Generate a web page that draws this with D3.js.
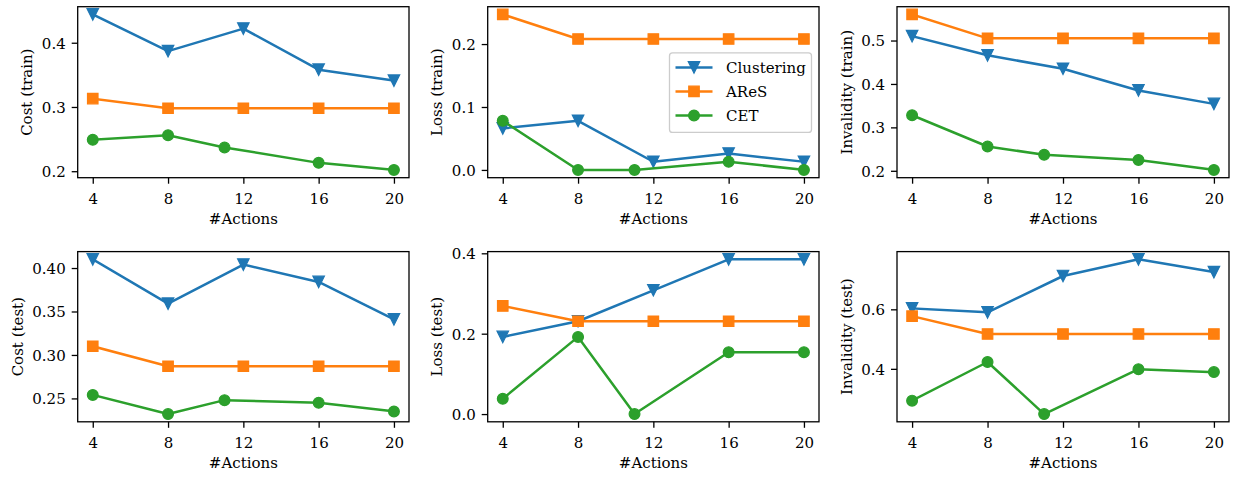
<!DOCTYPE html>
<html>
<head>
<meta charset="utf-8">
<script src="https://cdn.jsdelivr.net/npm/d3@7"></script>
<style>
  html, body { margin: 0; padding: 0; background: #fff; }
  svg { display: block; }
  text { font-family: "DejaVu Serif", "Liberation Serif", serif; fill: #000; }
</style>
</head>
<body>
<svg id="chart" width="1233" height="479"></svg>
<script>
// ---------------- data ----------------
const seriesNames = ["Clustering", "AReS", "CET"];
const actions = [4, 8, 12, 16, 20];
const actionsCET = [4, 8, 11, 16, 20];
const xTicks = [4, 8, 12, 16, 20];
const xLabel = "#Actions";

const costTrainClustering = [0.444, 0.387, 0.422, 0.358, 0.341];
const costTrainAReS       = [0.313, 0.298, 0.298, 0.298, 0.298];
const costTrainCET        = [0.249, 0.256, 0.237, 0.213, 0.202];

const lossTrainClustering = [0.066, 0.078, 0.013, 0.026, 0.013];
const lossTrainAReS       = [0.247, 0.208, 0.208, 0.208, 0.208];
const lossTrainCET        = [0.078, 0.000, 0.000, 0.013, 0.000];

const invTrainClustering  = [0.510, 0.466, 0.435, 0.385, 0.354];
const invTrainAReS        = [0.560, 0.505, 0.505, 0.505, 0.505];
const invTrainCET         = [0.328, 0.256, 0.237, 0.225, 0.202];

const costTestClustering  = [0.410, 0.359, 0.404, 0.384, 0.341];
const costTestAReS        = [0.310, 0.287, 0.287, 0.287, 0.287];
const costTestCET         = [0.254, 0.232, 0.248, 0.245, 0.235];

const lossTestClustering  = [0.192, 0.231, 0.308, 0.385, 0.385];
const lossTestAReS        = [0.269, 0.231, 0.231, 0.231, 0.231];
const lossTestCET         = [0.038, 0.192, 0.000, 0.154, 0.154];

const invTestClustering   = [0.603, 0.590, 0.712, 0.768, 0.725];
const invTestAReS         = [0.577, 0.517, 0.517, 0.517, 0.517];
const invTestCET          = [0.293, 0.423, 0.248, 0.399, 0.389];

const yLabels = ["Cost (train)", "Loss (train)", "Invalidity (train)",
                 "Cost (test)", "Loss (test)", "Invalidity (test)"];
const yTicks = [
  [0.2, 0.3, 0.4],
  [0.0, 0.1, 0.2],
  [0.2, 0.3, 0.4, 0.5],
  [0.25, 0.30, 0.35, 0.40],
  [0.0, 0.2, 0.4],
  [0.4, 0.6]
];
const yTickDecimals = [1, 1, 1, 2, 1, 1];

const panelData = [
  [costTrainClustering, costTrainAReS, costTrainCET],
  [lossTrainClustering, lossTrainAReS, lossTrainCET],
  [invTrainClustering, invTrainAReS, invTrainCET],
  [costTestClustering, costTestAReS, costTestCET],
  [lossTestClustering, lossTestAReS, lossTestCET],
  [invTestClustering, invTestAReS, invTestCET]
];

// ---------------- styling / layout ----------------
const colors = ["#1f77b4", "#ff7f0e", "#2ca02c"];
const markers = ["triDown", "square", "circle"];
const colLeft = [77.7, 487.7, 897];
const colRight = [409, 819, 1229];
const rowTop = [6.7, 251.6];
const rowBottom = [177.7, 421.8];
const legendPanel = 1;

const svg = d3.select("#chart");
const FONT = 15;

function markerPath(type, s) {
  const h = s / 2;
  if (type === "triDown") return `M${-h},${-h}L${h},${-h}L0,${h}Z`;
  if (type === "square") return `M${-h},${-h}H${h}V${h}H${-h}Z`;
  return d3.arc()({innerRadius: 0, outerRadius: h, startAngle: 0, endAngle: 2 * Math.PI});
}
const markerSize = { triDown: 11.5, square: 10.5, circle: 10.8 };

panelData.forEach((series, i) => {
  const r = Math.floor(i / 3), c = i % 3;
  const L = colLeft[c], R = colRight[c], T = rowTop[r], B = rowBottom[r];

  const x = d3.scaleLinear().domain([3.2, 20.8]).range([L, R]);
  const all = series.flat();
  const lo = d3.min(all), hi = d3.max(all), pad = (hi - lo) * 0.05;
  const y = d3.scaleLinear().domain([lo - pad, hi + pad]).range([B, T]);

  const g = svg.append("g");
  const clipId = "clip" + i;
  g.append("clipPath").attr("id", clipId)
    .append("rect").attr("x", L).attr("y", T).attr("width", R - L).attr("height", B - T);

  // series
  const plot = g.append("g").attr("clip-path", `url(#${clipId})`);
  series.forEach((vals, k) => {
    const xs = k === 2 ? actionsCET : actions;
    const pts = vals.map((v, j) => [xs[j], v]);
    const line = d3.line().x(d => x(d[0])).y(d => y(d[1]));
    const sg = plot.append("g");
    sg.append("path").attr("d", line(pts))
      .attr("fill", "none").attr("stroke", colors[k])
      .attr("stroke-width", 2.5).attr("stroke-linejoin", "round").attr("stroke-linecap", "square");
    sg.selectAll("path.m").data(pts).join("path").attr("class", "m")
      .attr("d", markerPath(markers[k], markerSize[markers[k]]))
      .attr("transform", d => `translate(${x(d[0])},${y(d[1])})`)
      .attr("fill", colors[k]).attr("stroke", colors[k]).attr("stroke-width", 1.2)
      .attr("stroke-linejoin", "miter");
  });

  // frame
  g.append("rect").attr("x", L).attr("y", T).attr("width", R - L).attr("height", B - T)
    .attr("fill", "none").attr("stroke", "#000").attr("stroke-width", 1.3);

  // x axis
  const xAxis = g.append("g").attr("transform", `translate(0,${B})`)
    .call(d3.axisBottom(x).tickValues(xTicks).tickSize(6).tickPadding(4).tickFormat(d3.format("d")));
  xAxis.select(".domain").remove();
  xAxis.selectAll(".tick line").attr("stroke", "#000").attr("stroke-width", 1.3);
  xAxis.selectAll(".tick text").attr("font-size", FONT).attr("font-family", null)
    .attr("y", null).attr("dy", null).attr("dominant-baseline", null)
    .attr("y", 26);

  // y axis
  const yAxis = g.append("g").attr("transform", `translate(${L},0)`)
    .call(d3.axisLeft(y).tickValues(yTicks[i]).tickSize(6).tickPadding(6)
      .tickFormat(d3.format("." + yTickDecimals[i] + "f")));
  yAxis.select(".domain").remove();
  yAxis.selectAll(".tick line").attr("stroke", "#000").attr("stroke-width", 1.3);
  yAxis.selectAll(".tick text").attr("font-size", FONT).attr("font-family", null)
    .attr("dy", "0.36em");

  let minX = Infinity;
  yAxis.selectAll(".tick text").each(function () {
    const bb = this.getBBox();
    minX = Math.min(minX, bb.x);
  });

  // axis labels
  g.append("text").attr("x", (L + R) / 2).attr("y", B + 46.5)
    .attr("text-anchor", "middle").attr("font-size", FONT).text(xLabel);
  const yl = L + minX - 9.5;
  g.append("text").attr("transform", `translate(${yl},${(T + B) / 2}) rotate(-90)`)
    .attr("text-anchor", "middle").attr("font-size", FONT).text(yLabels[i]);

  // legend
  if (i === legendPanel) {
    const lw = 142, lh = 79.5;
    const lx = R - 7.5 - lw, ly = (T + B) / 2 - lh / 2 + 0.5;
    const lg = g.append("g");
    lg.append("rect").attr("x", lx).attr("y", ly).attr("width", lw).attr("height", lh)
      .attr("rx", 3).attr("fill", "#fff").attr("fill-opacity", 0.8)
      .attr("stroke", "#cccccc").attr("stroke-width", 1.3);
    seriesNames.forEach((name, k) => {
      const cy = ly + 14.5 + k * 24;
      lg.append("line").attr("x1", lx + 6).attr("x2", lx + 43).attr("y1", cy).attr("y2", cy)
        .attr("stroke", colors[k]).attr("stroke-width", 2.5);
      lg.append("path").attr("d", markerPath(markers[k], markerSize[markers[k]]))
        .attr("transform", `translate(${lx + 24.5},${cy})`)
        .attr("fill", colors[k]).attr("stroke", colors[k]).attr("stroke-width", 1.2);
      lg.append("text").attr("x", lx + 56.5).attr("y", cy).attr("dy", "0.36em")
        .attr("font-size", FONT).text(name);
    });
  }
});
</script>
</body>
</html>
